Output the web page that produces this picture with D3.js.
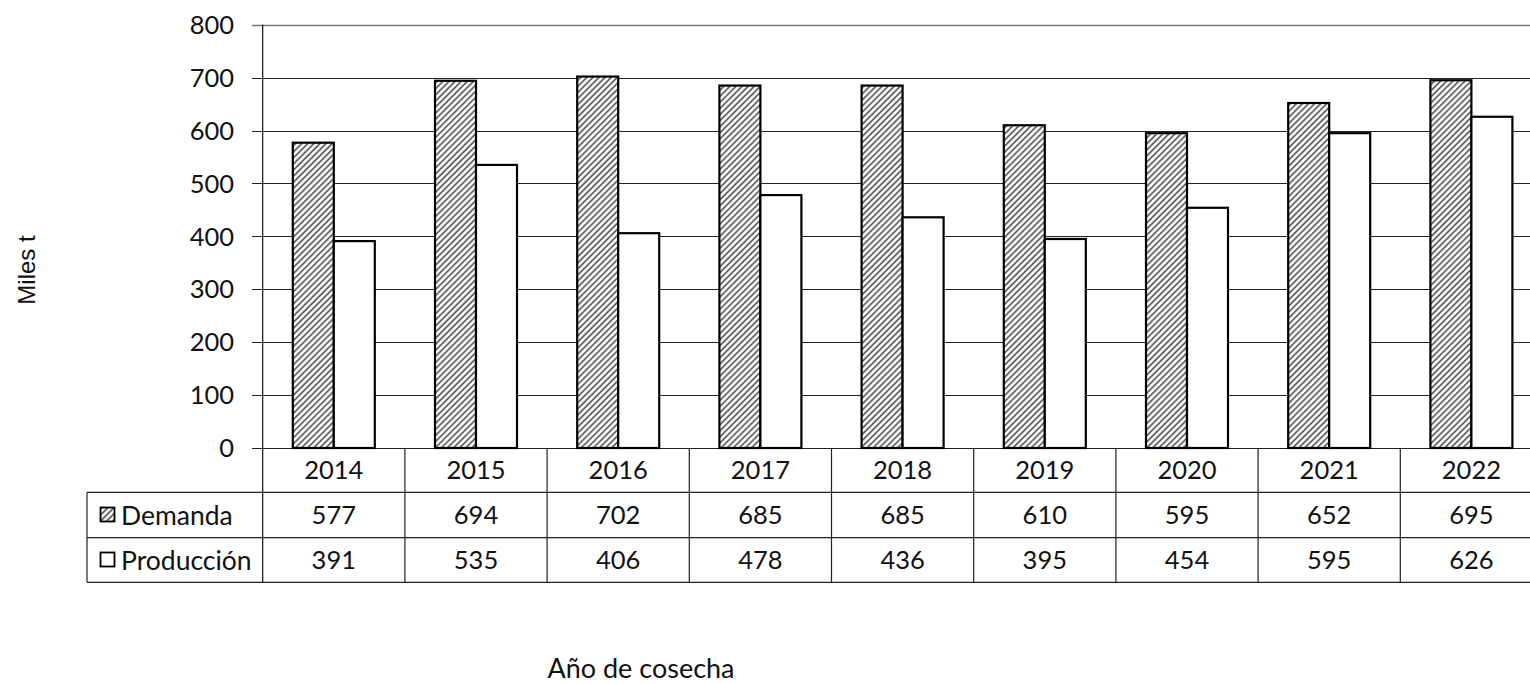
<!DOCTYPE html>
<html><head><meta charset="utf-8">
<script src="https://cdn.jsdelivr.net/npm/d3@7"></script>
<style>html,body{margin:0;padding:0;background:#fff;overflow:hidden}</style>
</head><body>
<script>
const years = ["2014","2015","2016","2017","2018","2019","2020","2021","2022"];
const seriesNames = ["Demanda","Producción"];
const demanda = [577,694,702,685,685,610,595,652,695];
const produccion = [391,535,406,478,436,395,454,595,626];
const yTicks = [0,100,200,300,400,500,600,700,800];
const yTitle = "Miles t";
const xTitle = "Año de cosecha";

const W = 1530, H = 684;
const F = "Lato, 'Open Sans', sans-serif";
const svg = d3.select("body").append("svg").attr("width", W).attr("height", H);

const defs = svg.append("defs");
const pat = defs.append("pattern").attr("id","hatch").attr("patternUnits","userSpaceOnUse")
  .attr("width",4.3).attr("height",4.3).attr("patternTransform","rotate(45)");
pat.append("rect").attr("width",4.3).attr("height",4.3).attr("fill","#fff");
pat.append("line").attr("x1",1).attr("x2",1).attr("y1",0).attr("y2",4.3).attr("stroke","#5a5a5a").attr("stroke-width",1.7);

const x0 = 262.7, step = 142.2;
const x = d3.scaleBand().domain(years).range([x0, x0 + step*years.length]).paddingInner(0).paddingOuter(0);
const x1 = d3.scaleBand().domain(seriesNames).range([0, x.bandwidth()]).paddingInner(0).paddingOuter(0.734);
const y = d3.scaleLinear().domain([0,800]).range([448, 24.7]);

// gridlines
svg.append("g").selectAll("line").data(yTicks).join("line")
  .attr("x1", 252).attr("x2", W)
  .attr("y1", d => Math.round(y(d)) + 0.5).attr("y2", d => Math.round(y(d)) + 0.5)
  .attr("stroke", d => d === 800 ? "#7a7a7a" : "#222").attr("stroke-width", d => d===800?1.4:1.1);

// y axis labels
svg.append("g").selectAll("text").data(yTicks).join("text")
  .attr("x", 234).attr("y", d => y(d)).attr("dy","0.36em")
  .attr("text-anchor","end").attr("font-family",F).attr("font-size",25.5).attr("fill","#111")
  .text(d => d);

// bars
const data = seriesNames.map((s,i) => ({s, vals: i===0 ? demanda : produccion}));
const g = svg.append("g");
data.forEach((ser,i) => {
  g.append("g").selectAll("rect").data(ser.vals).join("rect")
    .attr("x", (d,j) => x(years[j]) + x1(ser.s))
    .attr("width", x1.bandwidth())
    .attr("y", d => y(d))
    .attr("height", d => y(0) - y(d))
    .attr("fill", i===0 ? "url(#hatch)" : "#fff")
    .attr("stroke","#000").attr("stroke-width",2.2);
});

// axis line
svg.append("line").attr("x1",x0).attr("x2",x0).attr("y1",y(800)).attr("y2",582.3).attr("stroke","#111").attr("stroke-width",1.2);

// table
const rowY = [448, 492.3, 537.7, 582.3];
const tbl = svg.append("g").attr("stroke","#222").attr("stroke-width",1.2);
tbl.append("line").attr("x1",87).attr("x2",W).attr("y1",rowY[1]).attr("y2",rowY[1]);
tbl.append("line").attr("x1",87).attr("x2",W).attr("y1",rowY[2]).attr("y2",rowY[2]);
tbl.append("line").attr("x1",87).attr("x2",W).attr("y1",rowY[3]).attr("y2",rowY[3]);
tbl.append("line").attr("x1",87).attr("x2",87).attr("y1",rowY[1]).attr("y2",rowY[3]);
tbl.selectAll("line.v").data(years).join("line").attr("class","v")
  .attr("x1", d => x(d) + x.bandwidth()).attr("x2", d => x(d) + x.bandwidth())
  .attr("y1", rowY[0]).attr("y2", rowY[3]);

const txt = svg.append("g").attr("font-family",F).attr("font-size",25.5).attr("fill","#111").attr("text-anchor","middle");
txt.selectAll("text.yr").data(years).join("text").attr("class","yr")
  .attr("x", d => x(d) + x.bandwidth()/2).attr("y", (rowY[0]+rowY[1])/2).attr("dy","0.36em").text(d => d);
data.forEach((ser,i) => {
  const cy = (rowY[i+1]+rowY[i+2])/2;
  txt.append("g").selectAll("text").data(ser.vals).join("text")
    .attr("x", (d,j) => x(years[j]) + x.bandwidth()/2).attr("y", cy).attr("dy","0.36em").text(d => d);
  svg.append("rect").attr("x",100.5).attr("y",cy-7.5).attr("width",14).attr("height",14)
    .attr("fill", i===0 ? "url(#hatch)" : "#fff").attr("stroke","#000").attr("stroke-width",1.8);
  svg.append("text").attr("x",121).attr("y",cy).attr("dy","0.36em")
    .attr("font-family",F).attr("font-size",26.5).attr("fill","#111").text(ser.s);
});

// titles
svg.append("text").attr("transform","translate(26,270) rotate(-90)").attr("text-anchor","middle")
  .attr("dy","0.36em").attr("font-family","'Liberation Sans', Arial, sans-serif").attr("font-size",24).attr("fill","#111").text(yTitle);
svg.append("text").attr("x",641).attr("y",678).attr("text-anchor","middle")
  .attr("font-family",F).attr("font-size",27).attr("fill","#111").text(xTitle);
</script>
</body></html>
